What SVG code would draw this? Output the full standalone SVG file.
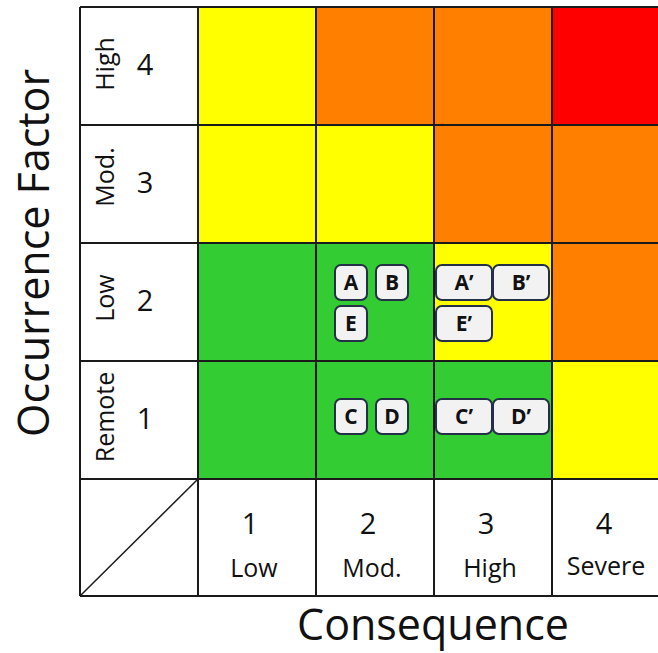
<svg xmlns="http://www.w3.org/2000/svg" width="658" height="653" viewBox="0 0 658 653">
<style>
.y{fill:#FFFF00}.o{fill:#FF8000}.r{fill:#FF0000}.g{fill:#33CC33}.w{fill:#FFFFFF}
.grid{stroke:#1a1a1a;stroke-width:2;fill:none}
.t{font-family:"Open Sans","Liberation Sans",sans-serif;fill:#111}
.num{font-size:29px}
.lab{font-size:25px}
.axis{font-size:43px}
.bx{fill:#F2F2F2;stroke:#243047;stroke-width:2}
.bt{font-family:"Open Sans","Liberation Sans",sans-serif;font-weight:bold;font-size:21px;fill:#111;text-anchor:middle}
</style>
<rect x="0" y="0" width="658" height="653" fill="#FFFFFF"/>
<g id="cells">
<rect class="y" x="198" y="7" width="118" height="118"/>
<rect class="o" x="316" y="7" width="118" height="118"/>
<rect class="o" x="434" y="7" width="118" height="118"/>
<rect class="r" x="552" y="7" width="140" height="118"/>
<rect class="y" x="198" y="125" width="118" height="118"/>
<rect class="y" x="316" y="125" width="118" height="118"/>
<rect class="o" x="434" y="125" width="118" height="118"/>
<rect class="o" x="552" y="125" width="140" height="118"/>
<rect class="g" x="198" y="243" width="118" height="118"/>
<rect class="g" x="316" y="243" width="118" height="118"/>
<rect class="y" x="434" y="243" width="118" height="118"/>
<rect class="o" x="552" y="243" width="140" height="118"/>
<rect class="g" x="198" y="361" width="118" height="118"/>
<rect class="g" x="316" y="361" width="118" height="118"/>
<rect class="g" x="434" y="361" width="118" height="118"/>
<rect class="y" x="552" y="361" width="140" height="118"/>
</g>
<g id="gridlines" class="grid">
<path d="M80 7H700M80 125H700M80 243H700M80 361H700M80 479H700M80 596H700"/>
<path d="M80 7V596M198 7V596M316 7V596M434 7V596M552 7V596"/>
<path d="M80 596L198 479" stroke-width="1.5"/>
</g>
<g id="row-labels" class="t">
<text class="lab" transform="translate(114,64) rotate(-90)" text-anchor="middle">High</text>
<text class="lab" transform="translate(114,177) rotate(-90)" text-anchor="middle">Mod.</text>
<text class="lab" transform="translate(114,298) rotate(-90)" text-anchor="middle">Low</text>
<text class="lab" transform="translate(114,417) rotate(-90)" text-anchor="middle">Remote</text>
<text class="num" x="145" y="75" text-anchor="middle">4</text>
<text class="num" x="145" y="193" text-anchor="middle">3</text>
<text class="num" x="145" y="311" text-anchor="middle">2</text>
<text class="num" x="145" y="429" text-anchor="middle">1</text>
</g>
<g id="col-labels" class="t">
<text class="num" x="250" y="534" text-anchor="middle">1</text>
<text class="num" x="368" y="534" text-anchor="middle">2</text>
<text class="num" x="486" y="534" text-anchor="middle">3</text>
<text class="num" x="604" y="534" text-anchor="middle">4</text>
<text class="lab" x="254" y="577" text-anchor="middle">Low</text>
<text class="lab" x="372" y="577" text-anchor="middle">Mod.</text>
<text class="lab" x="490" y="577" text-anchor="middle">High</text>
<text class="lab" x="606" y="575" text-anchor="middle">Severe</text>
</g>
<g id="axis-titles" class="t">
<text class="axis" transform="translate(49,253) rotate(-90)" text-anchor="middle">Occurrence Factor</text>
<text class="axis" x="433" y="640" text-anchor="middle">Consequence</text>
</g>
<g id="node-A"><rect class="bx" x="335" y="265" width="32" height="35" rx="6"/><text class="bt" x="351" y="290">A</text></g>
<g id="node-B"><rect class="bx" x="376" y="265" width="32" height="35" rx="6"/><text class="bt" x="392" y="290">B</text></g>
<g id="node-E"><rect class="bx" x="335" y="306" width="32" height="35" rx="6"/><text class="bt" x="351" y="331">E</text></g>
<g id="node-C"><rect class="bx" x="335" y="399" width="32" height="35" rx="6"/><text class="bt" x="351" y="424">C</text></g>
<g id="node-D"><rect class="bx" x="376" y="399" width="32" height="35" rx="6"/><text class="bt" x="392" y="424">D</text></g>
<g id="node-A2"><rect class="bx" x="436" y="265" width="56" height="35" rx="6"/><text class="bt" x="464" y="290">A’</text></g>
<g id="node-B2"><rect class="bx" x="493" y="265" width="56" height="35" rx="6"/><text class="bt" x="521" y="290">B’</text></g>
<g id="node-E2"><rect class="bx" x="436" y="306" width="56" height="35" rx="6"/><text class="bt" x="464" y="331">E’</text></g>
<g id="node-C2"><rect class="bx" x="436" y="399" width="56" height="35" rx="6"/><text class="bt" x="464" y="424">C’</text></g>
<g id="node-D2"><rect class="bx" x="493" y="399" width="56" height="35" rx="6"/><text class="bt" x="521" y="424">D’</text></g>
</svg>
